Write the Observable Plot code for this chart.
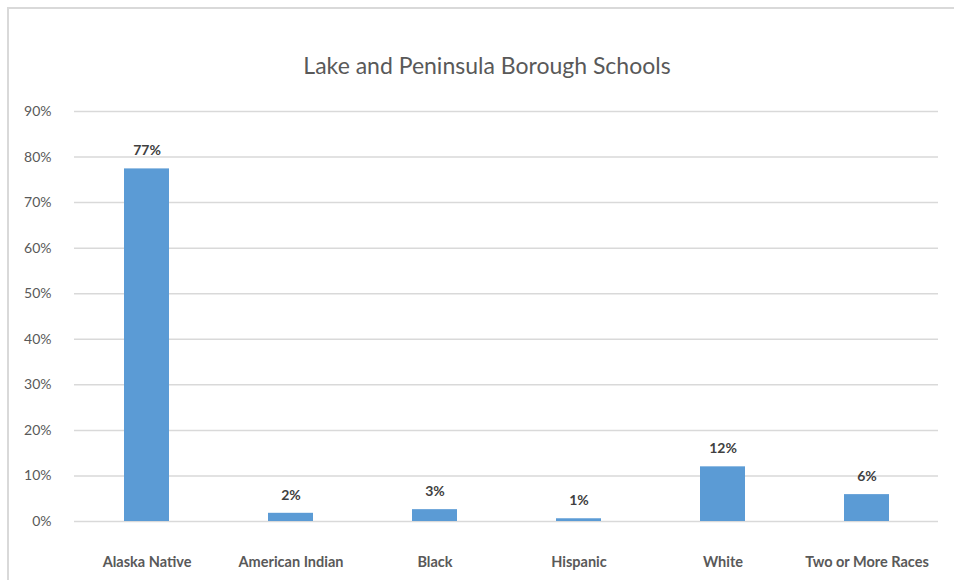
<!DOCTYPE html>
<html>
<head>
<meta charset="utf-8">
<script src="https://cdn.jsdelivr.net/npm/d3@7"></script>
<script src="https://cdn.jsdelivr.net/npm/@observablehq/plot@0.6"></script>
<style>
  html, body { margin: 0; padding: 0; background: #fff; overflow: hidden; }
  #wrap { position: relative; width: 954px; height: 580px; overflow: hidden; font-family: Lato, "Open Sans", sans-serif; }
  #frame { position: absolute; left: 7px; top: 7px; width: 1000px; height: 1000px; border: 2px solid #d9d9d9; box-sizing: border-box; }
  #title { position: absolute; top: 50px; left: 0; width: 974px; text-align: center; font-size: 23px; color: #595959; line-height: 30px; }
  #chart { position: absolute; left: 0; top: 0; }
</style>
</head>
<body>
<div id="wrap">
  <div id="frame"></div>
  <div id="title">Lake and Peninsula Borough Schools</div>
  <div id="chart"></div>
</div>
<script>
const categories = ["Alaska Native", "American Indian", "Black", "Hispanic", "White", "Two or More Races"];
const values = [77.4, 1.8, 2.6, 0.6, 12.0, 5.9];
const yTicks = [0, 10, 20, 30, 40, 50, 60, 70, 80, 90];

const data = categories.map((c, i) => ({category: c, value: values[i]}));

const chart = Plot.plot({
  width: 954,
  height: 580,
  marginTop: 111,
  marginBottom: 59,
  marginLeft: 74,
  marginRight: 16,
  style: {fontFamily: "Lato, 'Open Sans', sans-serif", background: "transparent"},
  x: {domain: categories, paddingInner: 0.69, paddingOuter: 0.345, label: null},
  y: {domain: [0, 90], ticks: yTicks, label: null},
  marks: [
    Plot.gridY(yTicks, {stroke: "#d9d9d9", strokeOpacity: 1, strokeWidth: 1.5}),
    Plot.axisY(yTicks, {tickSize: 0, tickPadding: 23, tickFormat: d => d + "%", fontSize: 14, fill: "#595959", label: null}),
    Plot.axisX({tickSize: 0, tickPadding: 35, fontSize: 14.5, fontWeight: "bold", fill: "#595959", label: null}),
    Plot.barY(data, {x: "category", y: "value", fill: "#5b9bd5"}),
    Plot.text(data, {x: "category", y: "value", text: d => Math.round(d.value) + "%", dy: -18, fontSize: 14, fontWeight: "bold", fill: "#404040"})
  ]
});
document.getElementById("chart").appendChild(chart);
</script>
</body>
</html>
